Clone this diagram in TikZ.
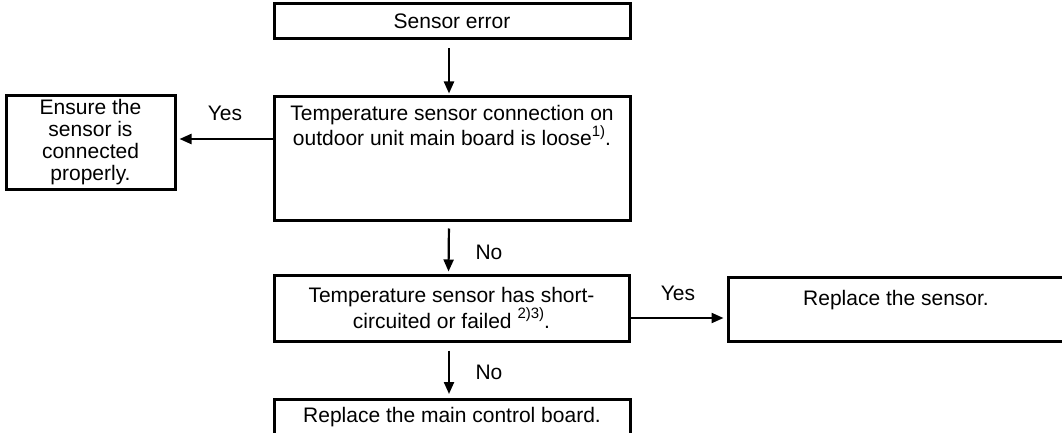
\documentclass[tikz,border=0pt]{standalone}
\usepackage{fontspec}
\setmainfont{Liberation Sans}
\usetikzlibrary{arrows.meta}
\newcommand{\fnref}[1]{\raisebox{0.45em}{\fontsize{15}{15}\selectfont #1}}
\begin{document}
\begin{tikzpicture}[x=1pt,y=1pt,
    box/.style={draw, line width=3pt, inner sep=0pt, align=center,
      font=\fontsize{21}{22}\selectfont},
    flow/.style={line width=2.2pt, -{Triangle[length=12pt,width=10pt]}},
    answer/.style={font=\fontsize{21}{22}\selectfont}
  ]
  \useasboundingbox (0,0) rectangle (1062,432);
  % boxes
  \node[box, minimum width=356pt, minimum height=35pt] (err) at (452,410.5) {Sensor error};
  \node[box, minimum width=356pt, minimum height=123pt] (loose) at (452,273.5)
    {Temperature sensor connection on\\ outdoor unit main board is loose\fnref{1)}.\\ \mbox{}\\ \mbox{}\\ \mbox{}};
  \node[box, minimum width=169pt, minimum height=93pt] (ensure) at (90.5,289.5)
    {Ensure the\\ sensor is\\ connected\\ properly.};
  \node[box, minimum width=355pt, minimum height=66pt] (short) at (451.5,124)
    {Temperature sensor has short-\\ circuited or failed \fnref{2)3)}.};
  \node[box, minimum width=336pt, minimum height=64pt] (repl) at (896,123)
    {Replace the sensor.\\ \mbox{}};
  \node[box, minimum width=356pt, minimum height=36pt] (board) at (452,15)
    {Replace the main control board.};
  % connectors
  \draw[flow, shorten <=8pt, shorten >=2pt] ([xshift=-3pt]err.south) -- ([xshift=-3pt]loose.north);
  \draw[flow, shorten >=3pt] ([yshift=19.5pt]loose.west) -- ([yshift=19.5pt]loose.west -| ensure.east);
  \draw[flow, shorten <=7pt, shorten >=2pt] ([xshift=-3pt]loose.south) -- ([xshift=-3pt]short.north);
  \draw[flow, shorten >=3pt] ([yshift=-10pt]short.east) -- ([yshift=-10pt]short.east -| repl.west);
  \draw[flow, shorten <=8pt, shorten >=3.5pt] ([xshift=-2.5pt]short.south) -- ([xshift=-3pt]board.north);
  % answers
  \node[answer] (yes1) at (225,319) {Yes};
  \node[answer] (no1) at (489,180) {No};
  \node[answer] (yes2) at (678,139) {Yes};
  \node[answer] (no2) at (489,60) {No};
\end{tikzpicture}
\end{document}
